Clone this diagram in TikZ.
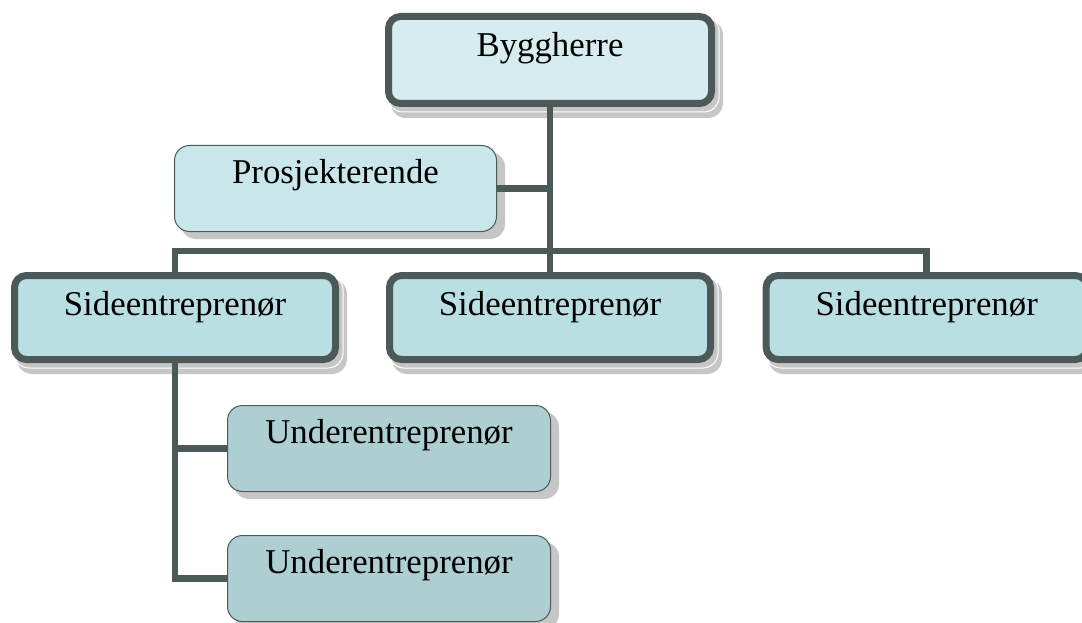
\documentclass[tikz,border=0pt]{standalone}
\usepackage{fontspec}
\setmainfont{Liberation Serif}
\usetikzlibrary{calc}
\pgfdeclarelayer{shade}
\pgfdeclarelayer{conn}
\pgfsetlayers{shade,conn,main}

\definecolor{edge}{HTML}{4B5959}
\definecolor{topfill}{HTML}{D7ECEF}
\definecolor{prosfill}{HTML}{C9E7EA}
\definecolor{sidefill}{HTML}{B9DFE3}
\definecolor{underfill}{HTML}{AECFD2}
\definecolor{shadowgray}{HTML}{C6C6C6}

\tikzset{
  box/.style={rectangle, inner sep=0pt, align=center, text height=26pt,
    font=\fontsize{34.8pt}{40pt}\selectfont},
  heavybox/.style={box, draw=edge, line width=7pt, rounded corners=12pt,
    minimum width=321pt, minimum height=84pt},
  lightbox/.style={box, draw=edge, line width=1pt, rounded corners=15pt,
    minimum width=322pt, minimum height=86pt},
  conn/.style={draw=edge, line width=6.5pt, line join=miter},
  shade/.style={fill=shadowgray, rounded corners=15pt},
  shadeline/.style={draw=white, line width=1pt, rounded corners=15pt}
}

\begin{document}
\begin{tikzpicture}[x=1pt, y=-1pt]
  \useasboundingbox (0,0) rectangle (1082,623);
  \clip (0,0) rectangle (1082,623);

  % boxes
  \node[heavybox, fill=topfill, minimum width=323pt, minimum height=87pt,
        text depth=32pt] (bygg) at (550,60) {Byggherre};
  \node[lightbox, fill=prosfill, text depth=37pt] (pros) at (335.5,188.5) {Prosjekterende};
  \node[heavybox, fill=sidefill, text depth=31pt] (side1) at (175,317.5) {Sideentreprenør};
  \node[heavybox, fill=sidefill, text depth=31pt] (side2) at (550,317.5) {Sideentreprenør};
  \node[heavybox, fill=sidefill, text depth=31pt] (side3) at (926.7,317.5) {Sideentreprenør};
  \node[lightbox, fill=underfill, minimum width=323pt, text depth=37pt] (under1) at (389,448.5) {Underentreprenør};
  \node[lightbox, fill=underfill, minimum width=323pt, text depth=37pt] (under2) at (389,578.5) {Underentreprenør};

  % drop shadows
  \begin{pgfonlayer}{shade}
    \foreach \n in {bygg,side1,side2,side3} {
      \fill[shade] ([shift={(6,7)}]\n.north west) rectangle ([shift={(8,11)}]\n.south east);
      \draw[shadeline] ([shift={(3,3)}]\n.north west) rectangle ([shift={(4,5)}]\n.south east);
    }
    \foreach \n in {pros,under1,under2} {
      \fill[shade] ([shift={(7,7)}]\n.north west) rectangle ([shift={(8,7)}]\n.south east);
    }
  \end{pgfonlayer}

  % connectors
  \coordinate (bar) at (550,251);
  \begin{pgfonlayer}{conn}
    \draw[conn] (bygg.south) -- (side2.north);
    \draw[conn] (pros.east) -- (pros.east -| bygg.south);
    \draw[conn] (side1.north) |- (bar) -| (side3.north);
    \draw[conn] (side1.south) |- (under2.west);
    \draw[conn] (side1.south |- under1.west) -- (under1.west);
  \end{pgfonlayer}
\end{tikzpicture}
\end{document}
